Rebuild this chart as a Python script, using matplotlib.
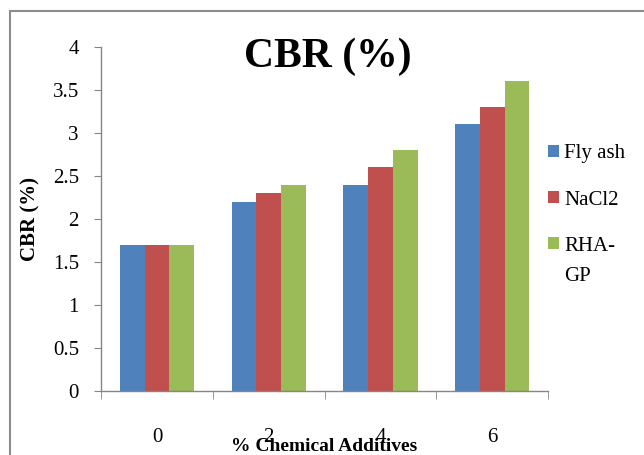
import numpy as np
import matplotlib.pyplot as plt
from matplotlib.patches import Rectangle, Patch

# data
categories = ['0', '2', '4', '6']
fly_ash = [1.7, 2.2, 2.4, 3.1]
nacl2 = [1.7, 2.3, 2.6, 3.3]
rha_gp = [1.7, 2.4, 2.8, 3.6]
series_names = ['Fly ash', 'NaCl2', 'RHA-']
colors = ['#4F81BD', '#C0504D', '#9BBB59']

plt.rcParams['font.family'] = ['Liberation Serif', 'DejaVu Serif']

fig = plt.figure(figsize=(6.44, 4.55), dpi=100)
ax = fig.add_axes([0.157, 0.1407, 0.694, 0.756])

x = np.arange(len(categories))
w = 0.222
for i, vals in enumerate([fly_ash, nacl2, rha_gp]):
    ax.bar(x + (i - 1) * w, vals, width=w, color=colors[i], edgecolor='none')

ax.set_xlim(-0.5, len(categories) - 0.5)
ax.set_ylim(0, 4)
ax.set_yticks(np.arange(0, 4.01, 0.5))
ax.set_yticklabels(['0', '0.5', '1', '1.5', '2', '2.5', '3', '3.5', '4'])
ax.set_xticks(x)
ax.set_xticklabels(categories)
ax.set_xticks(np.arange(-0.5, len(categories), 1), minor=True)

gray = '#868686'
for s in ['top', 'right']:
    ax.spines[s].set_visible(False)
for s in ['left', 'bottom']:
    ax.spines[s].set_color(gray)
    ax.spines[s].set_linewidth(1.0)

ax.tick_params(axis='y', direction='out', length=5, color=gray, labelsize=15, pad=11)
ax.tick_params(axis='x', which='major', length=0, labelsize=15, pad=27)
ax.tick_params(axis='x', which='minor', direction='out', length=6, color=gray)

ax.set_ylabel('CBR (%)', fontsize=15, fontweight='bold', labelpad=9)
ax.set_xlabel('% Chemical Additives', fontsize=14, fontweight='bold', labelpad=-7)

fig.text(0.5085, 0.853, 'CBR (%)', fontsize=30, fontweight='bold', ha='center', va='baseline')

handles = [Patch(facecolor=c, edgecolor='none') for c in colors]
leg = ax.legend(handles, series_names, loc='center left', bbox_to_anchor=(0.976, 0.555),
                frameon=False, fontsize=15, handlelength=0.53, handleheight=0.53,
                handletextpad=0.25, labelspacing=1.3, borderpad=0)
# second line of the wrapped "RHA-GP" entry, drawn after the legend
ax.annotate('GP', xy=(0, 0), xycoords=leg.get_texts()[2], xytext=(0, -8),
            textcoords='offset points', fontsize=15, ha='left', va='top',
            zorder=10, annotation_clip=False)

# outer chart border (cut off at right and bottom)
fig.patches.append(Rectangle((0.0155, -0.1), 1.2, 1.076, transform=fig.transFigure,
                             fill=False, edgecolor='#8c8c8c', linewidth=1.5))

fig.savefig('out.png', dpi=100)
